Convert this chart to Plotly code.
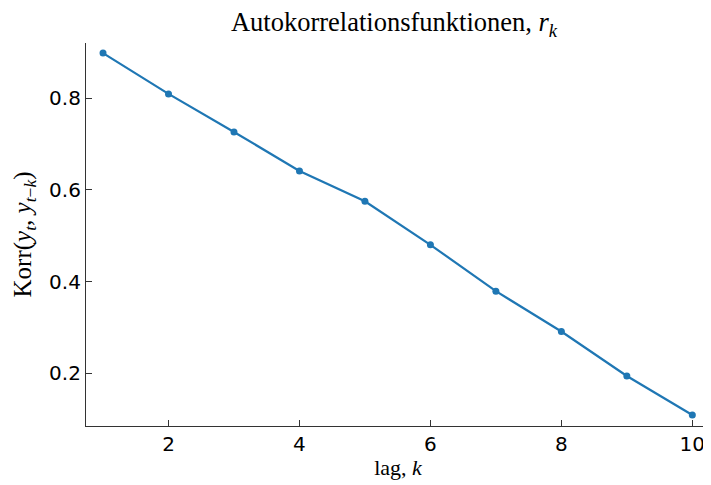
import plotly.graph_objects as go

lags = [1, 2, 3, 4, 5, 6, 7, 8, 9, 10]
acf = [0.898, 0.809, 0.726, 0.641, 0.575, 0.480, 0.379, 0.291, 0.194, 0.109]
xticks = [2, 4, 6, 8, 10]
yticks = [0.2, 0.4, 0.6, 0.8]

# page body has an 8px margin, so figure is sized/offset to compensate
W, H = 703, 477
fig = go.Figure(go.Scatter(
    x=lags, y=acf, mode="lines+markers",
    line=dict(color="#1f77b4", width=2.2),
    marker=dict(color="#1f77b4", size=7),
    showlegend=False, cliponaxis=False,
))

serif = "Liberation Serif, DejaVu Serif, serif"
fig.update_layout(
    width=W, height=H,
    margin=dict(l=78, r=1, t=35, b=59, autoexpand=False),
    plot_bgcolor="white", paper_bgcolor="white",
    title=dict(text="Autokorrelationsfunktionen, <i>r</i><sub><i>k</i></sub>",
               x=(394 - 8) / W, xanchor="center",
               y=1 - 14 / H, yanchor="middle",
               font=dict(family=serif, size=26.5, color="black")),
)
fig.update_xaxes(
    range=[0.74, 10.27], tickvals=xticks, ticktext=[str(v) for v in xticks],
    automargin=False,
    showgrid=False, zeroline=False, showline=True, linecolor="#333", linewidth=1.2,
    ticks="inside", ticklen=6, tickcolor="#333", tickwidth=1.2,
    tickfont=dict(family="DejaVu Sans", size=20, color="black"),
    title=dict(text="lag, <i>k</i>", font=dict(family=serif, size=22, color="black"), standoff=4),
)
fig.update_yaxes(
    range=[0.085, 0.92], tickvals=yticks, ticktext=[str(v) for v in yticks],
    automargin=False,
    showgrid=False, zeroline=False, showline=True, linecolor="#333", linewidth=1.2,
    ticks="inside", ticklen=6, tickcolor="#333", tickwidth=1.2,
    tickfont=dict(family="DejaVu Sans", size=20, color="black"),
    title=dict(text="Korr(<i>y</i><sub><i>t</i></sub>, <i>y</i><sub><i>t</i>−<i>k</i></sub>)",
               font=dict(family=serif, size=25, color="black"), standoff=10),
)

fig.write_html("out.html")
